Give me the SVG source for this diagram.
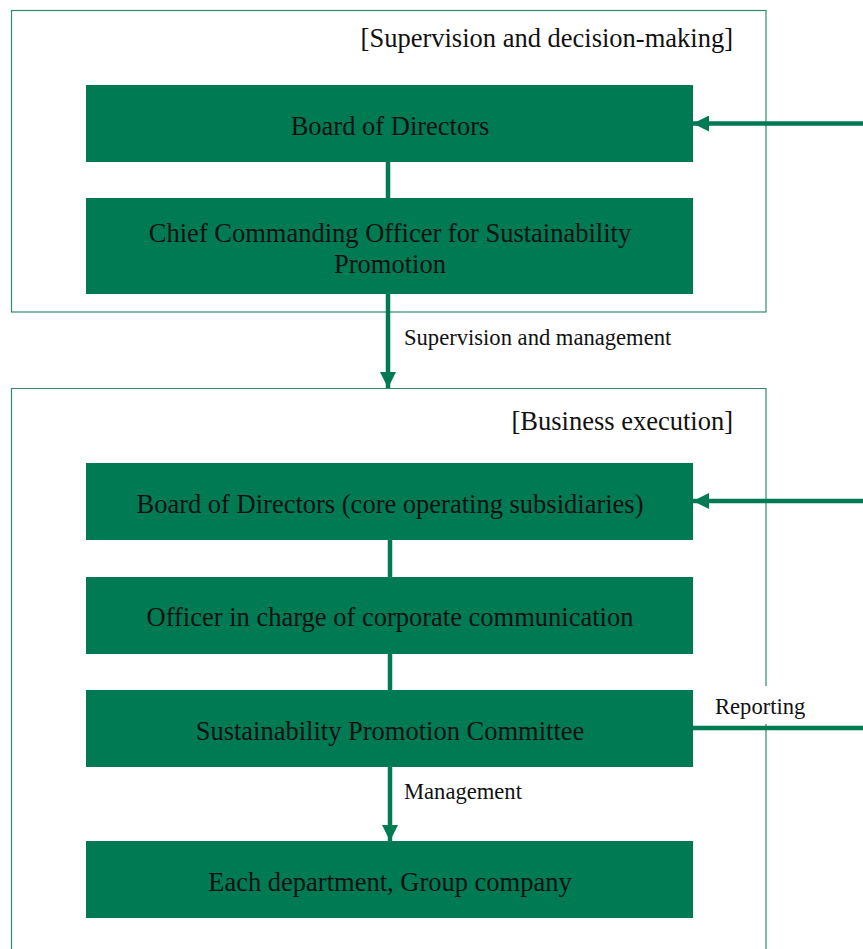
<svg xmlns="http://www.w3.org/2000/svg" width="863" height="949" viewBox="0 0 863 949">
  <style>
    .frame { fill: none; stroke: #2f8c6a; stroke-width: 1.2; }
    .box { fill: #007a53; }
    .boxtxt { font-family: "Liberation Serif", "Times New Roman", serif; font-size: 26.5px; fill: #111; text-anchor: middle; }
    .title { font-family: "Liberation Serif", "Times New Roman", serif; font-size: 26.5px; fill: #111; text-anchor: end; }
    .lbl { font-family: "Liberation Serif", "Times New Roman", serif; font-size: 22.6px; fill: #111; }
    .link { stroke: #007a53; stroke-width: 4.5; fill: none; }
  </style>
  <defs>
    <marker id="arrow" viewBox="0 0 16 16" refX="16" refY="8" markerWidth="16" markerHeight="16" markerUnits="userSpaceOnUse" orient="auto">
      <path d="M0,0 L16,8 L0,16 Z" fill="#007a53"/>
    </marker>
  </defs>
  <rect width="863" height="949" fill="#fff"/>

  <!-- frames -->
  <g id="frame-supervision">
    <rect class="frame" x="11.5" y="10.5" width="754.5" height="301.5"/>
    <text class="title" x="733" y="46.5">[Supervision and decision-making]</text>
  </g>
  <g id="frame-execution">
    <path class="frame" d="M11.5,960 V388.5 H766 V960"/>
    <text class="title" x="733" y="429.5">[Business execution]</text>
  </g>

  <!-- connectors -->
  <g id="connectors">
    <line class="link" x1="388" y1="162" x2="388" y2="198"/>
    <line class="link" x1="388" y1="294" x2="388" y2="388" marker-end="url(#arrow)"/>
    <line class="link" x1="390" y1="540" x2="390" y2="577"/>
    <line class="link" x1="390" y1="654" x2="390" y2="690"/>
    <line class="link" x1="390" y1="767" x2="390" y2="841" marker-end="url(#arrow)"/>
    <line class="link" x1="863" y1="123.5" x2="693" y2="123.5" marker-end="url(#arrow)"/>
    <line class="link" x1="863" y1="501" x2="693" y2="501" marker-end="url(#arrow)"/>
    <rect x="706" y="686" width="104" height="38" fill="#fff"/>
    <line class="link" x1="693" y1="728" x2="863" y2="728"/>
    <text class="lbl" x="404" y="345">Supervision and management</text>
    <text class="lbl" x="404" y="799">Management</text>
    <text class="lbl" x="715" y="714">Reporting</text>
  </g>

  <!-- nodes -->
  <g id="board">
    <rect class="box" x="86" y="85" width="607" height="77"/>
    <text class="boxtxt" x="390" y="134.5">Board of Directors</text>
  </g>
  <g id="chief-officer">
    <rect class="box" x="86" y="198" width="607" height="96"/>
    <text class="boxtxt" x="390" y="242">Chief Commanding Officer for Sustainability</text>
    <text class="boxtxt" x="390" y="273">Promotion</text>
  </g>
  <g id="board-subsidiaries">
    <rect class="box" x="86" y="463" width="607" height="77"/>
    <text class="boxtxt" x="390" y="512.5">Board of Directors (core operating subsidiaries)</text>
  </g>
  <g id="officer-communication">
    <rect class="box" x="86" y="577" width="607" height="77"/>
    <text class="boxtxt" x="390" y="625.5">Officer in charge of corporate communication</text>
  </g>
  <g id="promotion-committee">
    <rect class="box" x="86" y="690" width="607" height="77"/>
    <text class="boxtxt" x="390" y="739.5">Sustainability Promotion Committee</text>
  </g>
  <g id="departments">
    <rect class="box" x="86" y="841" width="607" height="77"/>
    <text class="boxtxt" x="390" y="890.5">Each department, Group company</text>
  </g>
</svg>
